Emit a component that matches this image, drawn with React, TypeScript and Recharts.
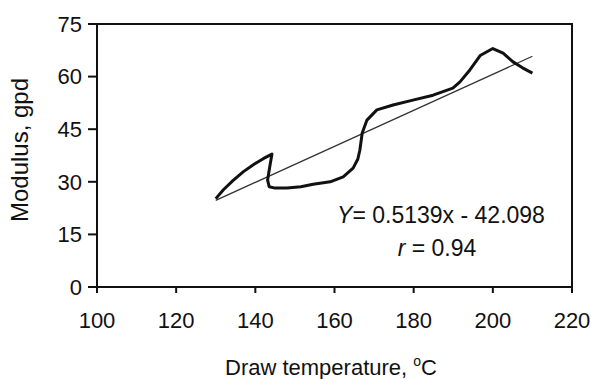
import { LineChart, Line, XAxis, YAxis, ReferenceArea } from "recharts";

const drawTemp = [
  130, 132, 134.4, 137, 139.4, 142, 144.2, 143.6, 143.1, 143.5, 145, 148, 151.5, 154.6, 158.9,
  162.2, 164.7, 165.9, 166.4, 167, 168.2, 170.7, 174.8, 179.8, 184.9, 189.9, 191.7, 194.2,
  196.8, 200, 202.6, 205.1, 207.5, 210,
];
const modulus = [
  25.2, 27.8, 30.4, 32.9, 34.8, 36.6, 37.9, 34, 30.5, 28.6, 28.2, 28.2, 28.6, 29.3, 30, 31.4,
  33.9, 36.5, 39, 43.9, 47.6, 50.5, 51.9, 53.3, 54.7, 56.7, 58.5, 61.9, 66, 68, 66.7, 64.2,
  62.5, 61,
];
const trendTemp = [130, 210];
const trendModulus = [24.7, 65.8];
const xTicks = [100, 120, 140, 160, 180, 200, 220];
const yTicks = [0, 15, 30, 45, 60, 75];

const curveData = drawTemp.map((x, i) => ({ x, y: modulus[i] }));
const trendData = trendTemp.map((x, i) => ({ x, y: trendModulus[i] }));

const font = "'Liberation Sans', Arial, sans-serif";
const ink = "#111";

function XTitle() {
  return (
    <text x={331} y={375} textAnchor="middle" fontFamily={font} fontSize={22} fill={ink}>
      Draw temperature,{" "}
      <tspan dy={-9} fontSize={14}>o</tspan>
      <tspan dy={9}>C</tspan>
    </text>
  );
}

function YTitle() {
  return (
    <text
      x={28}
      y={150}
      transform="rotate(-90 28 150)"
      textAnchor="middle"
      fontFamily={font}
      fontSize={24}
      fill={ink}
    >
      Modulus, gpd
    </text>
  );
}

function Equation() {
  return (
    <g fontFamily={font} fontSize={23} fill={ink}>
      <text x={441} y={223} textAnchor="middle">
        <tspan fontStyle="italic">Y</tspan>= 0.5139x - 42.098
      </text>
      <text x={437} y={256} textAnchor="middle">
        <tspan fontStyle="italic">r</tspan> = 0.94
      </text>
    </g>
  );
}

export default function App() {
  return (
    <div style={{ position: "absolute", left: 0, top: 0, background: "#fff" }}>
      <LineChart width={591} height={379} margin={{ top: 24, right: 19, left: 0, bottom: 0 }}>
        <XAxis
          type="number"
          dataKey="x"
          domain={[100, 220]}
          ticks={xTicks}
          height={92}
          axisLine={{ stroke: ink, strokeWidth: 2 }}
          tickLine={{ stroke: ink, strokeWidth: 2 }}
          tickSize={6}
          tickMargin={19}
          tick={{ fill: ink, fontSize: 22, fontFamily: font }}
          label={<XTitle />}
        />
        <YAxis
          type="number"
          domain={[0, 75]}
          ticks={yTicks}
          width={97}
          axisLine={{ stroke: ink, strokeWidth: 2 }}
          tickLine={{ stroke: ink, strokeWidth: 2 }}
          tickSize={9}
          tickMargin={6}
          tick={{ fill: ink, fontSize: 22, fontFamily: font }}
          label={<YTitle />}
        />
        <ReferenceArea
          x1={100}
          x2={220}
          y1={0}
          y2={75}
          fill="none"
          stroke={ink}
          strokeWidth={2}
          label={<Equation />}
        />
        <Line
          data={trendData}
          dataKey="y"
          type="linear"
          stroke="#333"
          strokeWidth={1.3}
          dot={false}
          isAnimationActive={false}
        />
        <Line
          data={curveData}
          dataKey="y"
          type="linear"
          stroke={ink}
          strokeWidth={3}
          strokeLinejoin="round"
          dot={false}
          isAnimationActive={false}
        />
      </LineChart>
    </div>
  );
}
